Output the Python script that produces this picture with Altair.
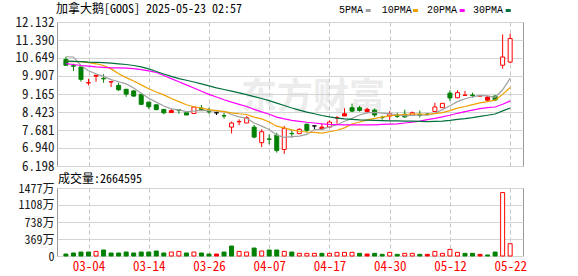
import altair as alt
import pandas as pd

title_text = "加拿大鹅[GOOS] 2025-05-23 02:57"
tick_idx = [3, 11, 19, 27, 35, 43, 51, 59]
tick_labels = ["03-04", "03-14", "03-26", "04-07", "04-17", "04-30", "05-12", "05-22"]
price_ticks = [12.132, 11.390, 10.649, 9.907, 9.165, 8.423, 7.681, 6.940, 6.198]
vol_ticks = [0, 3690000, 7380000, 11080000, 14770000]

open_ = [10.59, 10.33, 10.28, 9.62, 9.90, 9.81, 9.66, 9.52, 9.36, 9.29,
         9.15, 8.83, 8.72, 8.53, 8.40, 8.51, 8.39, 8.36, 8.58, 8.44,
         8.39, 8.27, 7.80, 8.02, 7.97, 7.80, 7.16, 7.31, 7.47, 6.88,
         7.54, 7.53, 7.92, 7.85, 7.72, 7.80, 8.18, 8.26, 8.60, 8.60,
         8.53, 8.50, 8.20, 8.26, 8.27, 8.33, 8.29, 8.31, 8.34, 8.44,
         8.60, 9.20, 9.01, 9.11, 9.12, 9.08, 9.04, 9.08, 10.35, 10.48]
high = [10.70, 10.41, 10.28, 9.79, 9.95, 9.98, 9.70, 9.63, 9.36, 9.33,
        9.15, 8.83, 8.72, 8.53, 8.55, 8.51, 8.39, 8.64, 8.71, 8.60,
        8.39, 8.39, 8.03, 8.12, 8.26, 7.89, 7.71, 7.50, 7.57, 7.85,
        7.67, 7.75, 7.94, 7.86, 7.95, 8.08, 8.26, 8.58, 8.77, 8.67,
        8.60, 8.57, 8.27, 8.46, 8.39, 8.52, 8.44, 8.48, 8.38, 8.80,
        8.78, 9.32, 9.32, 9.29, 9.22, 9.10, 9.08, 9.12, 11.62, 11.65]
low = [10.34, 10.11, 9.67, 9.52, 9.67, 9.63, 9.45, 9.29, 9.05, 9.05,
       8.72, 8.55, 8.50, 8.33, 8.40, 8.35, 8.30, 8.36, 8.46, 8.35,
       8.30, 8.15, 7.54, 7.88, 7.97, 7.34, 6.98, 7.09, 6.75, 6.70,
       7.36, 7.53, 7.57, 7.71, 7.72, 7.80, 7.94, 8.26, 8.42, 8.44,
       8.40, 8.22, 8.11, 8.08, 8.18, 8.18, 8.26, 8.20, 8.28, 8.44,
       8.60, 8.88, 8.99, 9.11, 9.02, 9.07, 8.87, 8.87, 10.21, 10.43]
close = [10.35, 10.31, 9.77, 9.63, 9.94, 9.79, 9.67, 9.34, 9.16, 9.08,
         8.74, 8.64, 8.52, 8.39, 8.48, 8.50, 8.30, 8.63, 8.53, 8.43,
         8.39, 8.26, 7.97, 8.03, 8.19, 7.39, 7.61, 7.30, 6.84, 7.75,
         7.53, 7.71, 7.67, 7.85, 7.80, 8.01, 8.19, 8.35, 8.46, 8.49,
         8.44, 8.30, 8.19, 8.35, 8.25, 8.22, 8.39, 8.29, 8.32, 8.63,
         8.78, 9.00, 9.22, 9.12, 9.10, 9.09, 8.91, 8.92, 10.69, 11.45]
kind = ["down", "down", "down", "upf", "upf", "down", "upf", "down", "down", "down",
        "down", "down", "down", "down", "upf", "down", "down", "up", "down", "down",
        "flat", "down", "up", "upf", "up", "down", "up", "down", "down", "up",
        "down", "up", "down", "flat", "upf", "up", "upf", "upf", "down", "down",
        "upf", "down", "down", "up", "down", "down", "up", "down", "down", "up",
        "up", "down", "up", "upf", "down", "upf", "upf", "down", "up", "up"]
volume = [430000, 650000, 860000, 860000, 1000000, 1300000, 650000, 650000, 860000, 650000,
          860000, 860000, 1080000, 650000, 860000, 1000000, 650000, 860000, 650000, 430000,
          430000, 860000, 2160000, 1000000, 860000, 1730000, 1080000, 1300000, 1300000, 1000000,
          860000, 580000, 580000, 580000, 580000, 580000, 790000, 790000, 790000, 580000,
          430000, 580000, 360000, 790000, 360000, 580000, 580000, 360000, 360000, 1000000,
          580000, 1440000, 790000, 580000, 580000, 360000, 220000, 860000, 13775000, 2664595]
vkind = ["down", "down", "down", "down", "up", "down", "down", "down", "down", "down",
         "down", "down", "down", "down", "up", "up", "down", "up", "down", "down",
         "upf", "down", "down", "up", "up", "down", "up", "down", "down", "up",
         "down", "up", "up", "up", "down", "up", "up", "up", "up", "down",
         "upf", "down", "down", "up", "down", "up", "up", "down", "upf", "up",
         "up", "up", "up", "down", "down", "upf", "down", "down", "up", "up"]
ma5 = [10.70, 10.69, 10.34, 10.12, 10.00, 9.89, 9.76, 9.67, 9.58, 9.41,
       9.20, 8.99, 8.83, 8.67, 8.55, 8.51, 8.44, 8.46, 8.49, 8.48,
       8.46, 8.45, 8.32, 8.22, 8.17, 7.97, 7.84, 7.70, 7.47, 7.38,
       7.41, 7.43, 7.50, 7.70, 7.71, 7.81, 7.90, 8.04, 8.16, 8.30,
       8.39, 8.41, 8.38, 8.35, 8.31, 8.26, 8.28, 8.30, 8.29, 8.37,
       8.52, 8.68, 8.85, 8.97, 9.05, 9.11, 9.09, 9.03, 9.34, 9.81]
ma10 = [10.52, 10.50, 10.50, 10.46, 10.41, 10.34, 10.20, 10.00, 9.84, 9.70,
        9.54, 9.38, 9.25, 9.13, 8.98, 8.85, 8.72, 8.64, 8.58, 8.52,
        8.48, 8.44, 8.39, 8.35, 8.32, 8.21, 8.14, 8.01, 7.84, 7.77,
        7.69, 7.63, 7.60, 7.58, 7.55, 7.61, 7.67, 7.77, 7.93, 8.01,
        8.10, 8.16, 8.21, 8.26, 8.30, 8.32, 8.34, 8.34, 8.33, 8.36,
        8.40, 8.48, 8.58, 8.65, 8.73, 8.80, 8.85, 8.91, 9.15, 9.43]
ma20 = [10.42, 10.38, 10.34, 10.31, 10.28, 10.26, 10.24, 10.24, 10.23, 10.21,
        10.17, 10.12, 10.05, 9.93, 9.80, 9.67, 9.54, 9.41, 9.28, 9.15,
        9.04, 8.93, 8.83, 8.74, 8.65, 8.53, 8.43, 8.33, 8.21, 8.14,
        8.08, 8.04, 8.00, 7.97, 7.93, 7.91, 7.90, 7.89, 7.89, 7.89,
        7.89, 7.89, 7.91, 7.92, 7.93, 7.97, 8.00, 8.05, 8.11, 8.16,
        8.22, 8.29, 8.37, 8.44, 8.50, 8.56, 8.60, 8.63, 8.74, 8.88]
ma30 = [10.52, 10.51, 10.50, 10.48, 10.47, 10.46, 10.44, 10.41, 10.38, 10.34,
        10.28, 10.20, 10.09, 9.99, 9.89, 9.80, 9.73, 9.66, 9.58, 9.50,
        9.42, 9.35, 9.28, 9.21, 9.14, 9.06, 8.98, 8.89, 8.79, 8.69,
        8.59, 8.50, 8.42, 8.35, 8.28, 8.22, 8.17, 8.14, 8.12, 8.10,
        8.09, 8.08, 8.07, 8.06, 8.06, 8.05, 8.05, 8.04, 8.03, 8.04,
        8.05, 8.08, 8.12, 8.15, 8.19, 8.24, 8.29, 8.34, 8.47, 8.59]

ma_names = ["5PMA", "10PMA", "20PMA", "30PMA"]
ma_fields = ["ma5", "ma10", "ma20", "ma30"]
ma_colors = ["#a0a0a0", "#f0a000", "#ff00ff", "#00703c"]

n = len(close)
df = pd.DataFrame({
    "idx": list(range(n)), "open": open_, "high": high, "low": low, "close": close,
    "kind": kind, "volume": volume, "vkind": vkind,
    "ma5": ma5, "ma10": ma10, "ma20": ma20, "ma30": ma30,
})
one = pd.DataFrame({"k": [0]})

FONT = "'Noto Sans Mono CJK SC', 'DejaVu Sans Mono', monospace"
X_DOM = [-0.52, 60.04]
kinds = ["up", "down", "upf", "flat"]
fill_sc = alt.Scale(domain=kinds, range=["#ffffff", "#008000", "#ff0000", "#000000"])
stroke_sc = alt.Scale(domain=kinds, range=["#ff0000", "#008000", "#ff0000", "#000000"])

top_xaxis = alt.Axis(values=tick_idx, labels=False, ticks=False, domain=False, grid=True,
                     gridColor="#c4c4c4", gridDash=[4, 3], title=None)
label_expr = " : ".join(f"datum.value == {i} ? '{t}'" for i, t in zip(tick_idx, tick_labels)) + " : ''"
bot_xaxis = alt.Axis(values=tick_idx, labelExpr=label_expr, labelColor="#ff0000", labelFont=FONT,
                     labelFontSize=13, ticks=False, domain=False, grid=True, gridColor="#c4c4c4",
                     gridDash=[4, 3], labelPadding=4, labelFlush=False, labelOverlap=False, title=None)


def xenc(axis):
    return alt.X("idx:Q", scale=alt.Scale(domain=X_DOM, nice=False, zero=False), axis=axis)


price_axis = alt.Axis(values=price_ticks, format=".3f", grid=True, gridColor="#d4d4d4", ticks=False,
                      domain=False, labelPadding=3, labelFont=FONT, labelFontSize=13, labelColor="#1a1a1a",
                      labelFlush=False, labelOverlap=False, title=None)


def yp(field):
    return alt.Y(f"{field}:Q", scale=alt.Scale(domain=[6.198, 12.132], nice=False, zero=False), axis=price_axis)


base = alt.Chart(df)

pin = alt.Chart(one).mark_rule(opacity=0).encode(
    x=alt.value(-56), x2=alt.value(-56), y=alt.value(-21), y2=alt.value(-20))

watermark = alt.Chart(one).mark_text(font="Noto Sans CJK SC", fontSize=36, fontWeight="bold",
                                     color="#d6d6d6", opacity=0.45, baseline="middle").encode(
    x=alt.value(256), y=alt.value(76), text=alt.value("东方财富"))

lines = base.transform_fold(ma_fields, as_=["ma", "val"]).mark_line(strokeWidth=1.2).encode(
    x=xenc(top_xaxis), y=yp("val"),
    color=alt.Color("ma:N", scale=alt.Scale(domain=ma_fields, range=ma_colors), legend=None))

wick = base.mark_rule(strokeWidth=1).encode(
    x=xenc(top_xaxis), y=yp("low"), y2="high",
    stroke=alt.Stroke("kind:N", scale=stroke_sc, legend=None))

body = base.mark_bar(width=4, strokeWidth=1).encode(
    x=xenc(top_xaxis), y=yp("open"), y2="close",
    fill=alt.Fill("kind:N", scale=fill_sc, legend=None),
    stroke=alt.Stroke("kind:N", scale=stroke_sc, legend=None))

title = alt.Chart(one).mark_text(font="'Noto Sans Mono CJK SC', 'Noto Sans CJK SC'", fontSize=12,
                                 align="left", baseline="middle", color="#000000").encode(
    x=alt.value(-1), y=alt.value(-13), text=alt.value(title_text))

legend_layers = []
leg_text_x = [282, 324.7, 370, 416]
leg_mark_x = [308.7, 356, 402.7, 448.7]
for name, col, tx, mx in zip(ma_names, ma_colors, leg_text_x, leg_mark_x):
    legend_layers.append(alt.Chart(one).mark_text(font="'Liberation Mono', monospace", fontSize=10,
                                                  align="left", baseline="middle", color="#000000").encode(
        x=alt.value(tx), y=alt.value(-12), text=alt.value(name)))
    legend_layers.append(alt.Chart(one).mark_rect(color=col).encode(
        x=alt.value(mx), x2=alt.value(mx + 5), y=alt.value(-13), y2=alt.value(-10)))

top = alt.layer(pin, watermark, wick, body, lines, title, *legend_layers).properties(width=466, height=144)

vol_axis = alt.Axis(values=vol_ticks, labelExpr="datum.value == 0 ? '0' : floor(datum.value / 10000) + '万'",
                    grid=True, gridColor="#d4d4d4", ticks=False, domain=False, labelPadding=3,
                    labelFont=FONT, labelFontSize=12, labelColor="#1a1a1a", labelFlush=False,
                    labelOverlap=False, title=None)

vol_bars = base.mark_bar(width=4, strokeWidth=1).encode(
    x=xenc(bot_xaxis),
    y=alt.Y("volume:Q", scale=alt.Scale(domain=[0, 14770000], nice=False), axis=vol_axis),
    fill=alt.Fill("vkind:N", scale=fill_sc, legend=None),
    stroke=alt.Stroke("vkind:N", scale=stroke_sc, legend=None))

vol_text = alt.Chart(one).mark_text(font="'Noto Sans Mono CJK SC', 'Noto Sans CJK SC'", fontSize=12,
                                    align="left", baseline="middle", color="#000000").encode(
    x=alt.value(1), y=alt.value(-9), text=alt.value(f"成交量:{volume[-1]}"))

bottom = alt.layer(vol_bars, vol_text).properties(width=466, height=68)

chart = alt.vconcat(top, bottom, spacing=22, bounds="flush").properties(padding=0).configure_view(
    stroke="#999999", strokeWidth=1)

chart.save("out.html", embed_options={"renderer": "svg", "actions": False})
